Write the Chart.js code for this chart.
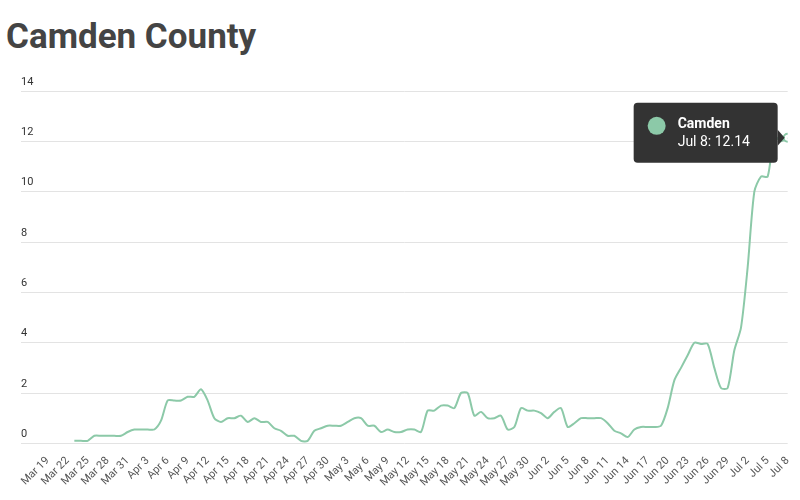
<!DOCTYPE html>
<html><head><meta charset="utf-8">
<script src="https://cdn.jsdelivr.net/npm/chart.js@4"></script>
<style>body{margin:0;background:#fff;font-family:Roboto,sans-serif}
h1{position:absolute;left:6px;top:16px;margin:0;font:bold 35px Roboto,sans-serif;color:#444}
#w{position:absolute;left:0;top:70px;width:800px;height:430px}</style></head>
<body><h1>Camden County</h1><div id="w"><canvas id="c"></canvas></div>
<script>
const seriesName = "Camden";
const startDate = [2020, 2, 19];
const dayCount = 112;
const values = [null,null,null,null,
0.1,0.1,0.1,0.3,0.3,0.3,0.3,0.3,0.45,0.55,0.55,0.55,0.55,0.9,1.7,1.7,1.7,1.85,1.85,2.15,1.7,1.0,0.85,1.0,1.0,1.1,0.85,1.0,0.85,0.85,0.6,0.5,0.3,0.3,0.1,0.1,0.5,0.6,0.7,0.7,0.7,0.85,1.0,1.0,0.7,0.7,0.45,0.55,0.45,0.45,0.55,0.55,0.45,1.3,1.3,1.5,1.5,1.4,2.0,2.0,1.1,1.25,1.0,1.0,1.1,0.55,0.65,1.4,1.3,1.3,1.2,1.0,1.25,1.4,0.65,0.8,1.0,1.0,1.0,1.0,0.8,0.5,0.4,0.25,0.55,0.65,0.65,0.65,0.7,1.4,2.5,3.0,3.5,4.0,3.95,3.95,3.0,2.2,2.2,3.7,4.6,7.0,10.0,10.6,10.6,12.2,12.0,12.14];
const yTicks = [0,2,4,6,8,10,12,14];
const months = ["Jan","Feb","Mar","Apr","May","Jun","Jul","Aug"];
const labels = [];
for (let i=0;i<dayCount;i++){const d=new Date(startDate[0],startDate[1],startDate[2]+i);labels.push(months[d.getMonth()]+" "+d.getDate());}
const points = values.map((v,i)=>({x:i,y:v}));
const color="#8cc9a8";
const last=values.length-1;
const tipPlugin={id:'tip',afterDraw(ch){
 const m=ch.getDatasetMeta(0).data[last];const ctx=ch.ctx;
 const w=144,h=60,x1=m.x-10,x0=x1-w,y0=m.y-35;
 ctx.save();ctx.fillStyle="#333";
 ctx.beginPath();ctx.roundRect(x0,y0,w,h,4);ctx.fill();
 ctx.beginPath();ctx.moveTo(x1,m.y-8);ctx.lineTo(x1+7,m.y);ctx.lineTo(x1,m.y+8);ctx.fill();
 ctx.fillStyle=color;ctx.beginPath();ctx.arc(x0+23,y0+23,9,0,Math.PI*2);ctx.fill();
 ctx.fillStyle="#fff";ctx.font="bold 14px Roboto";ctx.textBaseline="middle";
 ctx.fillText(seriesName,x0+44,y0+22);ctx.font="14px Roboto";
 ctx.fillText(labels[last]+": "+values[last].toFixed(2),x0+44,y0+40);ctx.restore();}};
new Chart(document.getElementById('c'),{type:'line',
 data:{datasets:[{label:seriesName,data:points,borderColor:color,borderWidth:2,tension:0.25,
  pointRadius:values.map((v,i)=>i===last?4:0),pointBackgroundColor:"#fff",pointBorderColor:color,pointBorderWidth:2}]},
 options:{responsive:true,maintainAspectRatio:false,animation:false,
  layout:{padding:{left:21,right:5,top:21,bottom:8}},
  plugins:{legend:{display:false},tooltip:{enabled:false}},
  scales:{y:{min:0,max:14,afterBuildTicks:a=>{a.ticks=yTicks.map(v=>({value:v}))},
    grid:{color:"#e3e3e3",drawTicks:false},border:{display:false},
    ticks:{mirror:true,padding:0,labelOffset:-9,z:1,color:"#333",font:{size:11,family:"Roboto"}}},
   x:{type:'linear',min:-4,max:dayCount-1,grid:{display:false},border:{display:false},
    afterBuildTicks:a=>{const t=[];for(let i=0;i<dayCount;i+=3)t.push({value:i});a.ticks=t;},
    ticks:{autoSkip:false,maxRotation:45,minRotation:45,color:"#555",font:{size:11,family:"Roboto"},
     callback:v=>labels[v]}}}},
 plugins:[tipPlugin]});
</script></body></html>
